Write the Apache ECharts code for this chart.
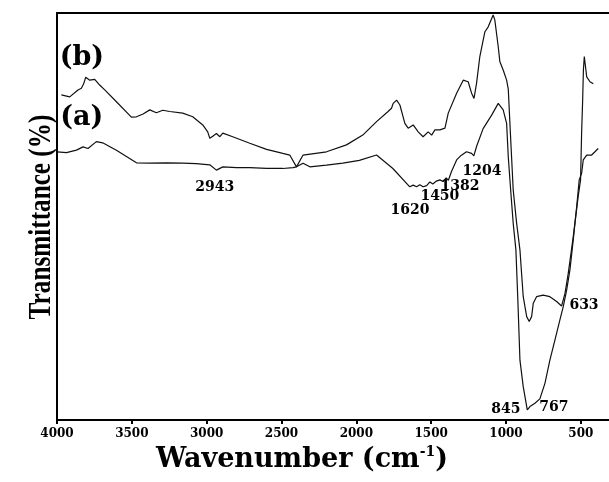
<!DOCTYPE html>
<html>
<head>
<meta charset="utf-8">
<script src="https://cdn.jsdelivr.net/npm/echarts@6/dist/echarts.min.js"></script>
<style>html,body{margin:0;padding:0;background:#fff;}#c{width:609px;height:482px;}</style>
</head>
<body>
<div id="c"></div>
<script>
// ---- data (wavenumber in cm-1, transmittance in arbitrary %) ----
const xTickLabels = [4000, 3500, 3000, 2500, 2000, 1500, 1000, 500];

const wavenumberA = [3999,3937,3870,3826,3793,3737,3695,3603,3469,3380,3270,3160,3070,2979,2935,2892,2800,2712,2600,2491,2423,2400,2356,2311,2200,2090,1980,1865,1756,1643,1620,1598,1576,1554,1530,1509,1489,1465,1442,1420,1400,1385,1365,1330,1300,1264,1230,1215,1197,1153,1096,1052,1019,996,985,969,952,934,921,907,885,858,840,807,774,740,707,673,640,618,595,573,551,528,511,495,484,461,428,406,384];
const transA = [65.9,65.7,66.3,67.1,66.7,68.4,68.1,66.3,63.2,63.1,63.2,63.1,63.0,62.7,61.4,62.2,62.0,62.0,61.8,61.8,62.0,62.2,63.1,62.2,62.6,63.1,63.8,65.1,61.8,57.3,57.7,57.3,57.8,57.3,57.6,58.5,58.0,58.7,59.0,58.6,59.5,58.9,61.0,63.9,65.0,65.9,65.5,64.9,67.2,71.6,74.9,77.8,76.2,72.9,64.7,56.5,48.3,41.8,29.5,14.7,8.2,2.5,3.3,4.1,5.2,9.0,14.7,19.7,24.6,27.8,31.9,36.9,44.2,52.4,59.0,60.6,63.9,65.1,65.1,65.9,66.7];

const wavenumberB = [3971,3915,3860,3837,3822,3808,3781,3748,3715,3681,3603,3503,3469,3425,3380,3336,3293,3247,3160,3093,3026,2993,2979,2957,2935,2912,2892,2826,2712,2600,2491,2445,2400,2356,2199,2066,1957,1865,1788,1765,1754,1731,1709,1676,1654,1620,1587,1554,1520,1497,1475,1442,1408,1386,1330,1286,1253,1230,1214,1197,1175,1141,1119,1086,1075,1052,1041,1019,996,985,974,963,952,929,907,896,885,862,845,829,818,796,752,707,662,629,606,584,551,518,502,495,488,483,477,461,439,417];
const transB = [79.9,79.4,81.1,81.5,82.6,84.2,83.5,83.7,82.3,81.1,78.2,74.4,74.5,75.2,76.2,75.5,76.1,75.8,75.4,74.5,72.5,70.8,69.2,69.8,70.4,69.6,70.5,69.6,68.0,66.5,65.5,65.1,62.2,65.1,65.9,67.6,70.0,73.3,75.8,76.6,77.8,78.6,77.4,72.9,71.7,72.5,70.8,69.6,70.8,70.0,71.3,71.3,71.7,75.4,80.3,83.5,83.1,80.3,79.0,82.7,89.3,95.4,96.6,99.5,98.3,91.7,88.0,86.0,83.5,81.3,72.9,64.7,56.5,48.3,41.8,36.0,30.3,25.4,24.2,25.4,28.7,30.3,30.7,30.3,29.1,28.0,31.1,36.1,45.0,54.9,59.0,70.5,78.6,86.0,89.3,84.3,83.1,82.6];

// peak annotations: text and anchor (wavenumber, transmittance)
const peakTexts = ['2943','1620','1450','1382','1204','633','845','767'];
const peakWn    = [2946, 1642, 1442, 1308, 1161, 479, 1001, 680];
const peakT     = [57.2, 51.4, 55.0, 57.5, 61.2, 28.1, 2.7, 3.2];

const curveNames = ['(b)', '(a)'];
const curveNameWn = [3834, 3834];
const curveNameT  = [88.9, 74.2];

// visible wavenumber range (plot is cropped on the right)
const xMax = 4000, xMin = 312;

// ---- build chart ----
const pair = (xs, ys) => xs.map((x, i) => [x, ys[i]]);
const chart = echarts.init(document.getElementById('c'), null, {renderer: 'canvas'});
const serif = '"DejaVu Serif", serif';

chart.setOption({
  animation: false,
  backgroundColor: '#fff',
  grid: {left: 57, right: 0, top: 13, bottom: 62, show: false},
  xAxis: [{
    type: 'value', inverse: true, min: xMin, max: xMax,
    axisLine: {show: true, lineStyle: {color: '#000', width: 2}},
    axisTick: {show: true, inside: false, length: 4, customValues: xTickLabels, lineStyle: {color: '#000', width: 2}},
    splitLine: {show: false},
    axisLabel: {
      margin: 8, color: '#000', fontFamily: serif, fontWeight: 'bold', fontSize: 12,
      customValues: xTickLabels, showMinLabel: true, showMaxLabel: true,
      formatter: v => String(v)
    }
  }, {
    type: 'value', inverse: true, min: xMin, max: xMax, position: 'top',
    axisLine: {show: true, lineStyle: {color: '#000', width: 2}},
    axisTick: {show: false}, axisLabel: {show: false}, splitLine: {show: false}
  }],
  yAxis: {
    type: 'value', min: 0, max: 100,
    axisLine: {show: true, lineStyle: {color: '#000', width: 2}},
    axisTick: {show: false}, axisLabel: {show: false}, splitLine: {show: false}
  },
  series: [
    {type: 'line', data: pair(wavenumberB, transB), showSymbol: false, symbol: 'none', lineStyle: {color: '#111', width: 1.2}},
    {type: 'line', data: pair(wavenumberA, transA), showSymbol: false, symbol: 'none', lineStyle: {color: '#111', width: 1.2}}
  ]
});

const toPx = (x, y) => chart.convertToPixel({xAxisIndex: 0, yAxisIndex: 0}, [x, y]);
const graphics = [];
peakTexts.forEach((t, i) => {
  const p = toPx(peakWn[i], peakT[i]);
  graphics.push({type: 'text', x: p[0], y: p[1],
    style: {text: t, align: 'center', verticalAlign: 'middle', fill: '#000',
      font: 'bold 14px "DejaVu Serif", serif'}});
});
curveNames.forEach((t, i) => {
  const p = toPx(curveNameWn[i], curveNameT[i]);
  graphics.push({type: 'text', x: p[0], y: p[1],
    style: {text: t, align: 'center', verticalAlign: 'middle', fill: '#000',
      font: 'bold 27px "DejaVu Serif", serif'}});
});
graphics.push({type: 'text', x: 302, y: 460,
  style: {text: '{a|Wavenumber (cm}{s|-1}{a|)}', align: 'center', verticalAlign: 'middle', fill: '#000',
    rich: {
      a: {fontFamily: serif, fontWeight: 'bold', fontSize: 27, fill: '#000', color: '#000', lineHeight: 30},
      s: {fontFamily: serif, fontWeight: 'bold', fontSize: 14, fill: '#000', color: '#000', verticalAlign: 'top', lineHeight: 30, padding: [0, 0, 12, 0]}
    }}});
graphics.push({type: 'text', x: 42, y: 217, rotation: Math.PI / 2, scaleX: 0.97, scaleY: 1.25,
  style: {text: 'Transmittance (%)', align: 'center', verticalAlign: 'middle', fill: '#000',
    font: 'bold 26px "Liberation Serif", serif'}});
chart.setOption({graphic: graphics});
</script>
</body>
</html>
